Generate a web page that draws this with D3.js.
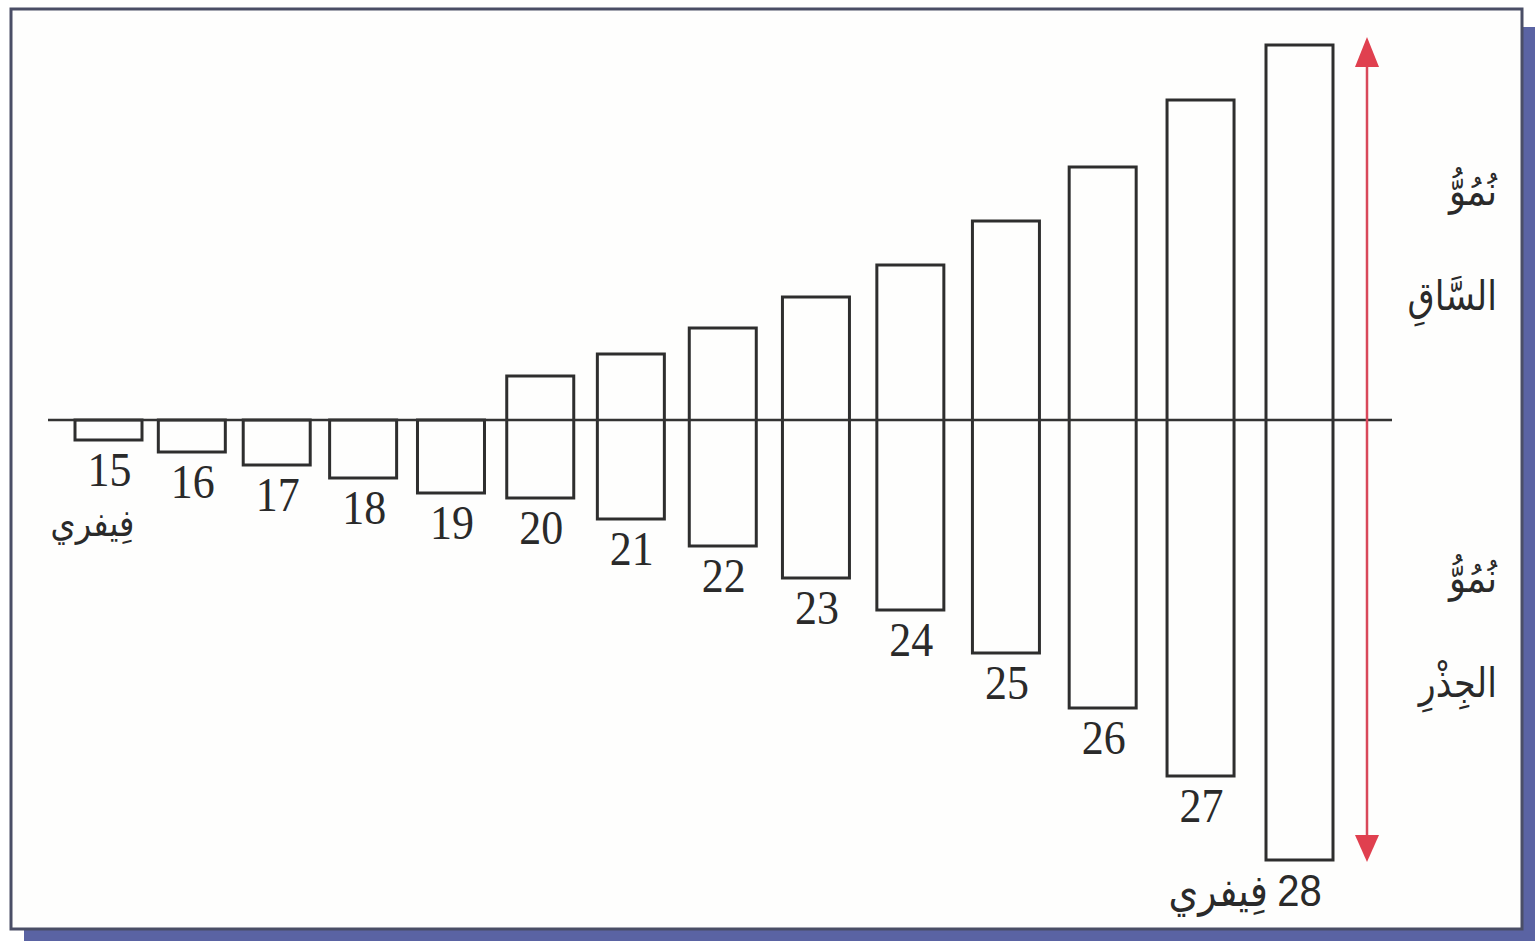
<!DOCTYPE html>
<html>
<head>
<meta charset="utf-8">
<script src="https://cdn.jsdelivr.net/npm/d3@7"></script>
<style>
  body { margin: 0; background: #fff; }
  svg { display: block; }
</style>
</head>
<body>
<svg width="1535" height="941"></svg>
<script>
// days of February
const days = [15, 16, 17, 18, 19, 20, 21, 22, 23, 24, 25, 26, 27, 28];
// stem growth (above the line), arbitrary units
const stemGrowth = [0, 0, 0, 0, 0, 4.4, 6.6, 9.2, 12.3, 15.5, 19.9, 25.3, 32, 37.5];
// root growth (below the line), arbitrary units
const rootGrowth = [2, 3.2, 4.5, 5.8, 7.3, 7.8, 9.9, 12.6, 15.8, 19, 23.3, 28.8, 35.6, 44];
const monthLabel = "فِيفري";
const stemLabel = ["نُمُوُّ", "السَّاقِ"];
const rootLabel = ["نُمُوُّ", "الجِذْرِ"];

const svg = d3.select("svg");

// frame with blue shadow
svg.append("rect")
  .attr("x", 24).attr("y", 27)
  .attr("width", 1535 - 24).attr("height", 941 - 27)
  .attr("fill", "#5a63a3");
svg.append("rect")
  .attr("x", 11).attr("y", 9)
  .attr("width", 1511).attr("height", 920)
  .attr("fill", "#fefefd")
  .attr("stroke", "#4a4e66")
  .attr("stroke-width", 3);

// scales - the drawing spreads the later days slightly wider apart
const barWidth = 67;
const x = d3.scalePow()
  .exponent(1.3)
  .domain([days[0], days[days.length - 1]])
  .range([75, 1266]);
const y = d3.scaleLinear()
  .domain([-44, 37.5])
  .range([860, 45]);

const data = days.map((d, i) => ({ day: d, stem: stemGrowth[i], root: rootGrowth[i] }));

// bars: stem above, root below
svg.append("g")
  .selectAll("rect")
  .data(data)
  .join("rect")
  .attr("x", d => x(d.day))
  .attr("width", barWidth)
  .attr("y", d => y(d.stem))
  .attr("height", d => y(-d.root) - y(d.stem))
  .attr("fill", "none")
  .attr("stroke", "#2e2e2e")
  .attr("stroke-width", 3);

// baseline
svg.append("line")
  .attr("x1", 48).attr("x2", 1392)
  .attr("y1", y(0)).attr("y2", y(0))
  .attr("stroke", "#333")
  .attr("stroke-width", 2.5);

// day labels under each bar
svg.append("g")
  .selectAll("text")
  .data(data)
  .join("text")
  .attr("transform", d => {
    const cx = x(d.day) + barWidth / 2 + (d.day === 28 ? 0 : 1);
    return "translate(" + cx + "," + (y(-d.root) + 46) + ") scale(1,1.12)";
  })
  .attr("text-anchor", "middle")
  .attr("font-family", d => d.day === 28 ? "Liberation Sans, Arial, sans-serif" : "Liberation Serif, Times New Roman, serif")
  .attr("font-size", d => d.day === 28 ? 40 : 44)
  .attr("fill", "#2a2a2a")
  .text(d => d.day);

// month label under the first and beside the last
svg.append("text")
  .attr("transform", "translate(" + (x(15) + barWidth / 2 - 16) + "," + (y(-rootGrowth[0]) + 96) + ") scale(1,1.15)")
  .attr("text-anchor", "middle")
  .attr("font-family", "DejaVu Sans, sans-serif")
  .attr("font-size", 32)
  .attr("fill", "#2a2a2a")
  .text(monthLabel);
svg.append("text")
  .attr("transform", "translate(" + (x(28) + 2) + "," + (y(-rootGrowth[13]) + 46) + ") scale(1,1.15)")
  .attr("text-anchor", "end")
  .attr("font-family", "DejaVu Sans, sans-serif")
  .attr("font-size", 38)
  .attr("fill", "#2a2a2a")
  .text(monthLabel);

// red double arrow
const ax = 1367;
svg.append("line")
  .attr("x1", ax).attr("x2", ax)
  .attr("y1", y(37.5) + 20).attr("y2", y(-44) - 20)
  .attr("stroke", "#d9485a")
  .attr("stroke-width", 2.5);
svg.append("path")
  .attr("d", `M${ax},${y(37.5) - 8} L${ax - 12},${y(37.5) + 22} L${ax + 12},${y(37.5) + 22} Z`)
  .attr("fill", "#e0404f");
svg.append("path")
  .attr("d", `M${ax},${y(-44) + 2} L${ax - 12},${y(-44) - 25} L${ax + 12},${y(-44) - 25} Z`)
  .attr("fill", "#e0404f");

// side labels
function sideLabel(lines, top) {
  svg.append("g")
    .selectAll("text")
    .data(lines)
    .join("text")
    .attr("transform", (d, i) => "translate(1497," + (top + i * 105) + ") scale(1,1.15)")
    .attr("text-anchor", "end")
    .attr("font-family", "DejaVu Sans, sans-serif")
    .attr("font-size", 35)
    .attr("fill", "#2a2a2a")
    .text(d => d);
}
sideLabel(stemLabel, 205);
sideLabel(rootLabel, 592);
</script>
</body>
</html>
